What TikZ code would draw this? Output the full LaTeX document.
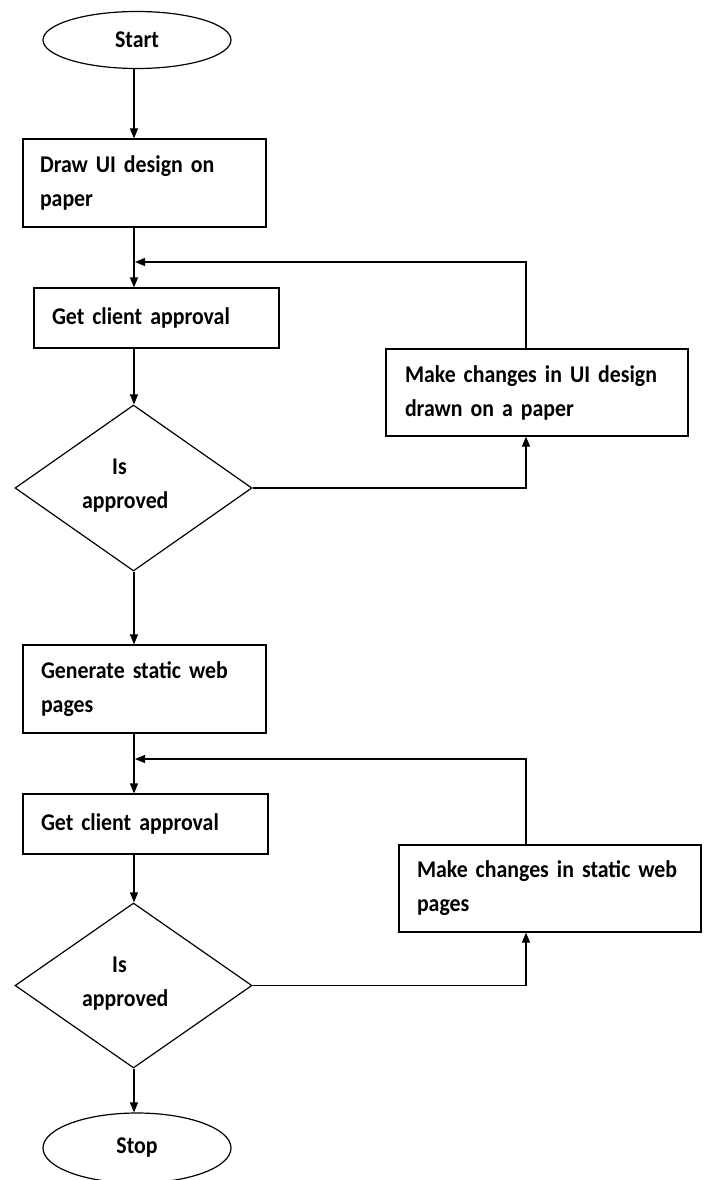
\documentclass[tikz,border=0pt]{standalone}
\usepackage{fontspec}
\setmainfont{Carlito}[FakeStretch=0.91]
\usetikzlibrary{shapes.geometric,arrows.meta}
\begin{document}
\begin{tikzpicture}[x=1pt,y=-1pt,
  every node/.style={font=\fontsize{24}{34}\selectfont\bfseries},
  box/.style={draw,line width=1.2pt,rectangle,inner sep=0pt,align=left},
  term/.style={draw,line width=1.2pt,ellipse,inner sep=0pt,minimum width=188pt},
  decision/.style={draw,line width=1.2pt,diamond,inner sep=0pt,minimum width=237pt,minimum height=166pt},
  lbl/.style={anchor=base west,inner sep=0pt},
  conn/.style={line width=1.2pt,-{Triangle[length=10pt,width=8pt]}},
  wire/.style={line width=1.2pt}]
\useasboundingbox (0,0) rectangle (705,1180);
\coordinate (spine) at (134,0);
\coordinate (loopx) at (526,0);

\node[term,minimum height=57pt] (start) at (137,40) {Start};
\node[box,minimum width=243pt,minimum height=88pt,text width=209pt] (b1) at (144.5,183) {Draw UI design on\\paper};
\node[box,minimum width=245pt,minimum height=60pt,text width=209pt] (b2) at (156.5,318) {Get client approval};
\node[decision] (d1) at (133.5,488) {};
\node[lbl] (d1a) at (112,474) {Is};
\node[lbl] (d1b) at (82,508) {approved};
\node[box,minimum width=302pt,minimum height=87pt,text width=264pt] (b3) at (537,392.5) {Make changes in UI design\\drawn on a paper};
\node[box,minimum width=243pt,minimum height=88pt,text width=207pt] (b4) at (144.5,689) {Generate static web\\pages};
\node[box,minimum width=245pt,minimum height=60pt,text width=209pt] (b5) at (145.5,824) {Get client approval};
\node[box,minimum width=302pt,minimum height=87pt,text width=266pt] (b6) at (550,888.5) {Make changes in static web\\pages};
\node[decision,minimum height=165pt] (d2) at (133.5,985.5) {};
\node[lbl] (d2a) at (112,972) {Is};
\node[lbl] (d2b) at (82,1006) {approved};
\node[term,minimum height=70pt] (stop) at (137,1148) {Stop};

\draw[conn] (start.south -| spine) -- (b1.north -| spine);
\draw[conn] (b1.south -| spine) -- (b2.north -| spine);
\draw[conn] (b2.south -| spine) -- (d1.north -| spine);
\draw[conn] (d1.south -| spine) -- (b4.north -| spine);
\draw[conn] (b4.south -| spine) -- (b5.north -| spine);
\draw[conn] (b5.south -| spine) -- (d2.north -| spine);
\draw[conn] (d2.south -| spine) -- (stop.north -| spine);

\draw[conn] (d1.east) -| (b3.south -| loopx);
\draw[conn] (b3.north -| loopx) |- ([xshift=1pt]spine |- 0,262);
\draw[conn] (d2.east) -| (b6.south -| loopx);
\draw[conn] (b6.north -| loopx) |- ([xshift=1pt]spine |- 0,759);
\end{tikzpicture}
\end{document}
